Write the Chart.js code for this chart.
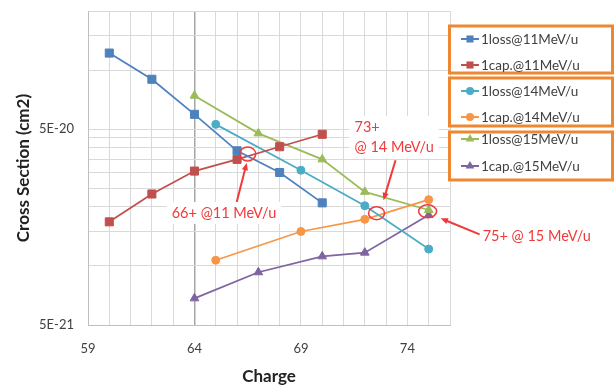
<!DOCTYPE html>
<html>
<head>
<title>Cross Section vs Charge</title>
<script src="https://cdn.jsdelivr.net/npm/chart.js"></script>
<style>
  body { margin: 0; background: #fff; }
  #wrap { position: relative; width: 616px; height: 387px; }
</style>
</head>
<body>
<div id="wrap"><canvas id="chart"></canvas></div>
<script>
// data
const charge11 = [60, 62, 64, 66, 68, 70];
const loss11 = [1.22e-19, 8.97e-20, 5.94e-20, 3.87e-20, 3.0e-20, 2.1e-20];
const cap11 = [1.68e-20, 2.33e-20, 3.05e-20, 3.5e-20, 4.06e-20, 4.7e-20];
const charge14 = [65, 69, 72, 75];
const loss14 = [5.28e-20, 3.08e-20, 2.03e-20, 1.22e-20];
const cap14 = [1.07e-20, 1.5e-20, 1.73e-20, 2.18e-20];
const charge15 = [64, 67, 70, 72, 75];
const loss15 = [7.4e-20, 4.75e-20, 3.5e-20, 2.39e-20, 1.93e-20];
const cap15 = [6.84e-21, 9.29e-21, 1.12e-20, 1.17e-20, 1.82e-20];

const yGrid = [5e-21, 1e-20, 1.5e-20, 2e-20, 2.5e-20, 3e-20, 3.5e-20, 4e-20, 4.5e-20, 5e-20, 1e-19, 1.5e-19, 2e-19];
const yLabeled = [5e-21, 5e-20];
const yLabelText = ['5E-21', '5E-20'];
const xLabeled = [59, 64, 69, 74];

const pts = (xs, ys) => xs.map((x, i) => ({ x: x, y: ys[i] }));

function series(label, xs, ys, color, style, r) {
    return {
        label: label, data: pts(xs, ys), borderColor: color, backgroundColor: color,
        pointBackgroundColor: color, pointBorderColor: color, pointStyle: style,
        pointRadius: r, borderWidth: 1.75, pointBorderWidth: 1
    };
}

// red notes: circle on the data, text and arrow offsets in px from the circle
const notes = [
    { x: 66.5, y: 3.73e-20, rx: 8, ry: 7, lines: ['66+ @11 MeV/u'], tx: -76, ty: 59, from: [-11, 48], to: [-1, 9], bg: true },
    { x: 72.55, y: 1.86e-20, rx: 8, ry: 6.5, lines: ['73+', '@ 14 MeV/u'], tx: -22, ty: -86, from: [19, -53], to: [7, -13], bg: true },
    { x: 74.95, y: 1.9e-20, rx: 9, ry: 6.5, lines: ['75+ @ 15 MeV/u'], tx: 55, ty: 25, from: [52, 23], to: [13, 7], bg: false }
];

function marker(ctx, style, x, y, r) {
    ctx.beginPath();
    if (style === 'rect') {
        const s = Math.SQRT1_2 * r;
        ctx.rect(x - s, y - s, 2 * s, 2 * s);
    } else if (style === 'triangle') {
        const w = r * Math.sqrt(3) / 2;
        ctx.moveTo(x, y - r);
        ctx.lineTo(x + w, y + r / 2);
        ctx.lineTo(x - w, y + r / 2);
        ctx.closePath();
    } else {
        ctx.arc(x, y, r, 0, Math.PI * 2);
    }
    ctx.fill();
}

const groupLegend = {
    id: 'groupLegend',
    afterDraw(chart) {
        const ctx = chart.ctx;
        const rowY = [39, 65, 91, 117, 139, 166];
        ctx.save();
        ctx.strokeStyle = '#EE8731';
        ctx.lineWidth = 3;
        [[26, 73], [78, 126], [132, 180]].forEach(b => ctx.strokeRect(449.5, b[0], 163, b[1] - b[0]));
        chart.data.datasets.forEach((ds, i) => {
            const y = rowY[i];
            ctx.strokeStyle = ds.borderColor;
            ctx.fillStyle = ds.borderColor;
            ctx.lineWidth = 2;
            ctx.beginPath(); ctx.moveTo(461, y); ctx.lineTo(479, y); ctx.stroke();
            marker(ctx, ds.pointStyle, 470, y, ds.pointStyle === 'circle' ? 4 : 5);
            ctx.fillStyle = '#404040';
            ctx.font = '13.5px Lato';
            ctx.textBaseline = 'middle';
            ctx.fillText(ds.label, 481, y + 1);
        });
        ctx.restore();
    }
};

const redNotes = {
    id: 'redNotes',
    afterDraw(chart) {
        const ctx = chart.ctx, xs = chart.scales.x, ys = chart.scales.y;
        ctx.save();
        ctx.font = '14.5px Lato';
        ctx.textBaseline = 'middle';
        notes.forEach(n => {
            const cx = xs.getPixelForValue(n.x), cy = ys.getPixelForValue(n.y);
            ctx.strokeStyle = '#F03A3A';
            ctx.fillStyle = '#F03A3A';
            ctx.lineWidth = 1.5;
            ctx.beginPath();
            ctx.ellipse(cx, cy, n.rx, n.ry, 0, 0, Math.PI * 2);
            ctx.stroke();
            // arrow
            const x1 = cx + n.from[0], y1 = cy + n.from[1], x2 = cx + n.to[0], y2 = cy + n.to[1];
            const a = Math.atan2(y2 - y1, x2 - x1);
            ctx.lineWidth = 2;
            ctx.beginPath(); ctx.moveTo(x1, y1); ctx.lineTo(x2 - 5 * Math.cos(a), y2 - 5 * Math.sin(a)); ctx.stroke();
            ctx.beginPath();
            ctx.moveTo(x2, y2);
            ctx.lineTo(x2 - 8 * Math.cos(a - 0.4), y2 - 8 * Math.sin(a - 0.4));
            ctx.lineTo(x2 - 8 * Math.cos(a + 0.4), y2 - 8 * Math.sin(a + 0.4));
            ctx.closePath(); ctx.fill();
            // text
            const tx = cx + n.tx, ty = cy + n.ty;
            if (n.bg) {
                const w = Math.max(...n.lines.map(l => ctx.measureText(l).width));
                ctx.fillStyle = '#fff';
                ctx.fillRect(tx - 5, ty - 11, w + 10, n.lines.length * 20 + 2);
            }
            ctx.fillStyle = '#F03A3A';
            n.lines.forEach((l, i) => ctx.fillText(l, tx, ty + i * 20));
        });
        ctx.restore();
    }
};

Chart.defaults.font.family = 'Lato';
Chart.defaults.color = '#595959';

new Chart(document.getElementById('chart'), {
    type: 'line',
    data: {
        datasets: [
            series('1loss@11MeV/u', charge11, loss11, '#4F81BD', 'rect', 5.7),
            series('1cap.@11MeV/u', charge11, cap11, '#C0504D', 'rect', 5.7),
            series('1loss@14MeV/u', charge14, loss14, '#4BACC6', 'circle', 4),
            series('1cap.@14MeV/u', charge14, cap14, '#F79646', 'circle', 4),
            series('1loss@15MeV/u', charge15, loss15, '#9BBB59', 'triangle', 5),
            series('1cap.@15MeV/u', charge15, cap15, '#8064A2', 'triangle', 5)
        ]
    },
    options: {
        responsive: true,
        maintainAspectRatio: false,
        animation: false,
        layout: { padding: { top: 11, right: 166, left: 0, bottom: 0 } },
        plugins: { legend: { display: false }, tooltip: { enabled: false } },
        scales: {
            x: {
                type: 'linear', min: 59, max: 76,
                afterFit: s => { s.height = 62; s.paddingLeft = 0; s.paddingRight = 0; },
                ticks: {
                    stepSize: 1, autoSkip: false, maxRotation: 0, padding: 16,
                    font: { size: 13 }, color: '#404040',
                    callback: v => xLabeled.includes(v) ? String(v) : ''
                },
                grid: {
                    drawTicks: false,
                    color: c => c.tick && c.tick.value === 64 ? '#A6A6A6' : '#D9D9D9',
                    lineWidth: c => c.tick && c.tick.value === 64 ? 1.5 : 1
                },
                border: { color: '#BFBFBF' },
                title: { display: true, text: 'Charge', color: '#222', font: { size: 17, weight: 'bold' }, padding: { top: 0, bottom: 0 } }
            },
            y: {
                type: 'logarithmic', min: 5e-21, max: 2e-19,
                afterBuildTicks: s => { s.ticks = yGrid.map(v => ({ value: v })); },
                afterFit: s => { s.width = 88; s.paddingTop = 0; s.paddingBottom = 0; },
                ticks: {
                    autoSkip: false, padding: 14, font: { size: 13 }, color: '#404040',
                    callback: v => { const i = yLabeled.indexOf(v); return i < 0 ? '' : yLabelText[i]; }
                },
                grid: { drawTicks: false, color: '#D9D9D9' },
                border: { color: '#BFBFBF' },
                title: { display: true, text: 'Cross Section (cm2)', color: '#222', font: { size: 17, weight: 'bold' }, padding: { top: 13, bottom: 0 } }
            }
        }
    },
    plugins: [groupLegend, redNotes]
});
</script>
</body>
</html>
